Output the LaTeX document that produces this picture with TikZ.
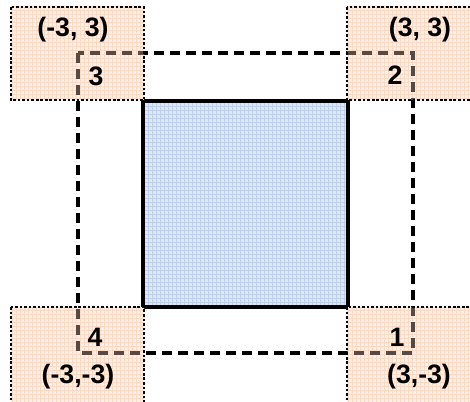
\documentclass[tikz,border=0pt]{standalone}
\usepackage{fontspec}
\setmainfont{Liberation Sans}
\usetikzlibrary{patterns}
\definecolor{peach}{RGB}{254,240,230}
\definecolor{peachgrid}{RGB}{250,218,196}
\definecolor{routebrown}{RGB}{88,74,64}
\definecolor{skyfill}{RGB}{222,232,244}
\definecolor{skygrid}{RGB}{190,208,235}
\tikzset{
  cornerbox/.style={fill=peach},
  cornergrid/.style={pattern=grid,pattern color=peachgrid},
  cornerrim/.style={draw=black,line width=1.1pt,dash pattern=on 2pt off 1.4pt},
  mainsq/.style={fill=skyfill},
  maingrid/.style={pattern=grid,pattern color=skygrid},
  mainrim/.style={draw=black,line width=2.4pt},
  routeline/.style={draw=black,line width=3pt,dash pattern=on 7.5pt off 4.5pt},
  lbl/.style={font=\fontsize{20}{24}\selectfont\bfseries,inner sep=0pt}
}
\begin{document}
\begin{tikzpicture}[x=0.75pt,y=-0.75pt]
    \useasboundingbox (0,0) rectangle (470,402);
    % centre square
    \path[mainsq] (143,101) rectangle (348,307);
    \path[maingrid] (144,102) rectangle (347,306);
    \path[mainrim] (143,101) rectangle (348,307);
    % corner zones
    \foreach \xa/\ya/\xb/\yb in {11/7/144/100, 347/7/472/100, 11/307/144/404, 347/307/472/404} {
        \path[cornerbox] (\xa,\ya) rectangle (\xb,\yb);
        \path[cornergrid] (\xa,\ya) rectangle (\xb,\yb);
    }
    % dashed route
    \path[routeline] (78,53) rectangle (413,353);
    \begin{scope}
        \clip (11,7) rectangle (144,100) (347,7) rectangle (472,100)
              (11,307) rectangle (144,404) (347,307) rectangle (472,404);
        \path[routeline,draw=routebrown] (78,53) rectangle (413,353);
    \end{scope}
    \foreach \xa/\ya/\xb/\yb in {11/7/144/100, 347/7/472/100, 11/307/144/404, 347/307/472/404}
        \path[cornerrim] (\xa,\ya) rectangle (\xb,\yb);
    % labels
    \node[lbl] (c3) at (73,30) {(-3, 3)};
    \node[lbl] (n3) at (96,76) {3};
    \node[lbl] (c2) at (420,30) {(3, 3)};
    \node[lbl] (n2) at (395,75) {2};
    \node[lbl] (n4) at (95,337) {4};
    \node[lbl] (c4) at (78,377) {(-3,-3)};
    \node[lbl] (n1) at (397,337) {1};
    \node[lbl] (c1) at (419,377) {(3,-3)};
\end{tikzpicture}
\end{document}
